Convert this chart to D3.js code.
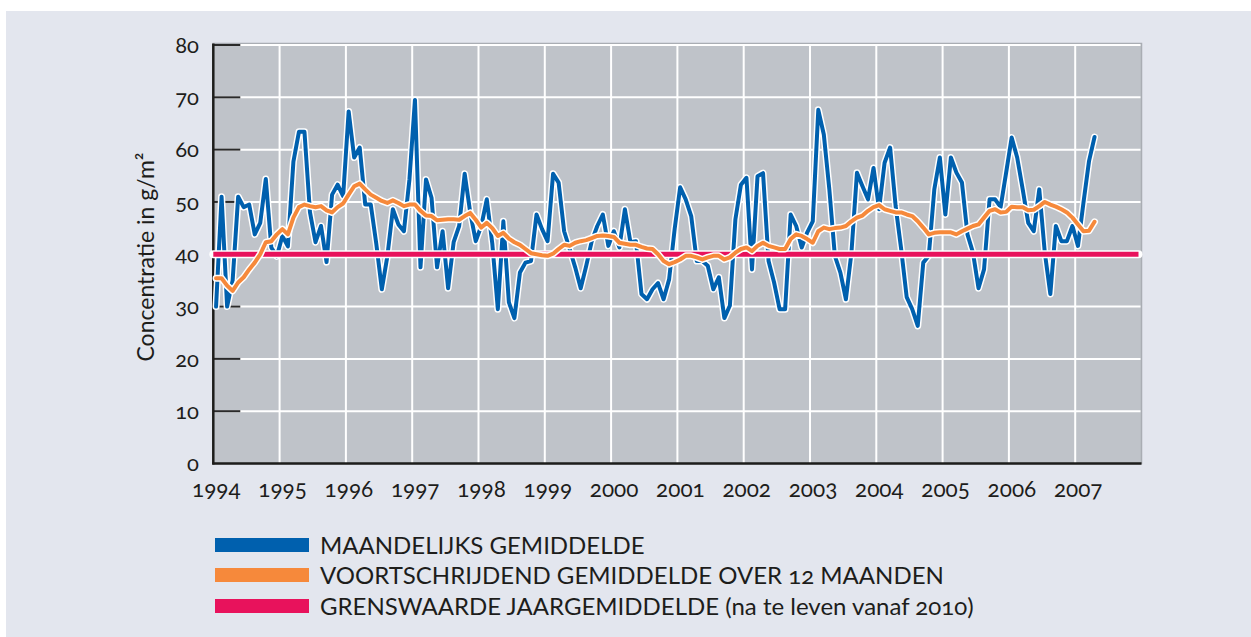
<!DOCTYPE html>
<html><head><meta charset="utf-8">
<script src="https://cdn.jsdelivr.net/npm/d3@7"></script>
<style>
html,body{margin:0;padding:0;background:#fff;}
svg text{font-family:Lato,"Noto Sans",sans-serif;font-variant-numeric:oldstyle-nums;font-feature-settings:"onum" 1;fill:#1d1d1b;}
</style></head><body>
<svg id="c" width="1251" height="637"></svg>
<script>
const years = [1994,1995,1996,1997,1998,1999,2000,2001,2002,2003,2004,2005,2006,2007];
const yTicks = [0,10,20,30,40,50,60,70,80];
const monthly = [30,51,30,35,51,49,49.5,43.8,46,54.4,41.3,39.6,
43.5,41.5,57.7,63.4,63.4,48,42.3,45.4,38.5,51.4,53.3,51.1,
67.3,58.5,60.4,49.5,49.5,42,33.3,39.6,48.6,45.7,44.4,54.3,
69.5,37.5,54.3,50.8,37.5,44.4,33.5,42.3,45.4,55.4,48,42.5,
45.4,50.5,42,29.5,46.3,30.8,27.8,36.5,38.4,38.7,47.6,44.8,
42.5,55.4,53.7,44.4,41,37.5,33.5,37.8,42.5,45.4,47.6,41.6,
44.4,41.3,48.6,42.3,42.5,32.4,31.4,33.3,34.5,31.4,35.2,44.8,
52.8,50.5,47.3,38.7,38.7,37.8,33.3,35.6,27.8,30.2,46.7,53.3,
54.6,37.1,54.9,55.5,38.7,34.6,29.5,29.5,47.6,45.4,41.3,44.2,
46.3,67.6,62.9,52.4,39.7,36.5,31.4,40.3,55.6,53,50.5,56.5,
48.6,57.5,60.4,49.2,41,31.8,29.5,26.3,38.4,39.7,52.4,58.5,
47.6,58.5,55.6,53.7,43.8,40.3,33.5,37.1,50.5,50.5,49,55.6,
62.3,58.5,52.4,46,44.4,52.4,40.3,32.4,45.4,42.5,42.5,45.4,
41.6,49.9,57.8,62.4];
const moving = [35.4,35.4,34,33,34.6,35.6,37.1,38.4,40,42.3,42.5,43.8,
44.8,43.8,47,49,49.5,49.2,49,49.2,48.4,48,49,49.7,
51.4,53,53.5,52.4,51.4,50.8,50.2,49.8,50.3,49.8,49.2,49.5,
49.5,48.3,47.4,47.3,46.5,46.6,46.7,46.7,46.6,47.3,47.9,46.6,
45.1,46,45,43.5,44.1,43,42.3,41.8,41,40.2,40,39.8,
39.7,40.1,41,41.8,41.6,42.2,42.5,42.7,43.1,43.5,43.6,43.5,
43.3,42.2,42,41.8,41.8,41.4,41.1,41,40,38.7,38.1,38.5,
39,39.7,39.7,39.4,39,39.4,39.7,39.7,39,39.4,40.3,41,
41.3,40.6,41.6,42.2,41.6,41.3,41,41,42.9,43.8,43.5,42.9,
42.2,44.4,45.1,44.8,45,45.1,45.4,46.3,47,47.4,48.3,49,
49.4,48.6,48.3,48,48,47.6,47.3,46.3,45.1,43.8,44.1,44.2,
44.2,44.2,43.8,44.4,44.9,45.4,45.7,47,48.3,48.6,48,48.1,
49.1,49,49,48.4,48.5,49.2,50,49.5,49.1,48.6,48,47,
45.7,44.4,44.5,46.2];
const limitValue = 40;
const legendLabels = ["MAANDELIJKS GEMIDDELDE","VOORTSCHRIJDEND GEMIDDELDE OVER 12 MAANDEN","GRENSWAARDE JAARGEMIDDELDE (na te leven vanaf 2010)"];
const colors = ["#0060ae","#f6893b","#e8125c"];

const svg = d3.select("#c");
svg.append("rect").attr("x",6).attr("y",11).attr("width",1245).attr("height",626).attr("fill","#e3e6ee");

const L=213.3, R=1141.5, T=43.5, B=463.5;
const x = d3.scaleLinear().domain([1994,2008]).range([L,R]);
const y = d3.scaleLinear().domain([0,80]).range([B,45]);
const mx = i => x(1994 + (i+0.5)/12);

svg.append("rect").attr("x",L).attr("y",T).attr("width",R-L).attr("height",B-T)
  .attr("fill","#bfc3c9").attr("stroke","#a9adb3").attr("stroke-width",1.5);

// gridlines
const g = svg.append("g");
g.selectAll(".vg").data(years.slice(1)).join("line")
  .attr("x1",d=>x(d)).attr("x2",d=>x(d)).attr("y1",T+1).attr("y2",B)
  .attr("stroke","#fff").attr("stroke-width",2);
g.selectAll(".hg").data(yTicks.slice(1)).join("line")
  .attr("x1",L).attr("x2",R-1).attr("y1",d=>y(d)).attr("y2",d=>y(d))
  .attr("stroke","#fff").attr("stroke-width",2);
g.selectAll(".tk").data(yTicks.slice(1)).join("line")
  .attr("x1",L).attr("x2",L+27).attr("y1",d=>y(d)).attr("y2",d=>y(d))
  .attr("stroke","#2a2a2a").attr("stroke-width",2);

// axes lines
svg.append("line").attr("x1",L).attr("x2",L).attr("y1",T).attr("y2",B+1).attr("stroke","#1d1d1b").attr("stroke-width",2.5);
svg.append("line").attr("x1",L-1).attr("x2",R).attr("y1",B).attr("y2",B).attr("stroke","#1d1d1b").attr("stroke-width",2.5);

// tick labels
svg.selectAll(".yl").data(yTicks).join("text")
  .attr("x",199).attr("y",d=>y(d)).attr("dy","0.35em").attr("text-anchor","end")
  .attr("font-size",22).text(d=>d);
svg.selectAll(".xl").data(years).join("text")
  .attr("x",d=>x(d)+3).attr("y",497).attr("text-anchor","middle")
  .attr("font-size",22.5).text(d=>d);

svg.append("text").attr("transform","translate(154,257) rotate(-90)")
  .attr("text-anchor","middle").attr("font-size",23).text("Concentratie in g/m²");

// lines
const line = d3.line().x((d,i)=>mx(i)).y(d=>y(d)).curve(d3.curveLinear);
function drawSeries(data,color){
  svg.append("path").datum(data).attr("d",line).attr("fill","none")
    .attr("stroke","#fff").attr("stroke-width",7).attr("stroke-linejoin","round").attr("stroke-linecap","round");
  svg.append("path").datum(data).attr("d",line).attr("fill","none")
    .attr("stroke",color).attr("stroke-width",4).attr("stroke-linejoin","round").attr("stroke-linecap","round");
}
drawSeries(monthly,colors[0]);
// limit line
const lim = [limitValue,limitValue];
svg.append("line").attr("x1",L).attr("x2",R-3).attr("y1",y(lim[0])).attr("y2",y(lim[1]))
  .attr("stroke","#fff").attr("stroke-width",8).attr("stroke-linecap","round");
svg.append("line").attr("x1",L).attr("x2",R-3).attr("y1",y(lim[0])).attr("y2",y(lim[1]))
  .attr("stroke",colors[2]).attr("stroke-width",5);
drawSeries(moving,colors[1]);

// legend
const lg = svg.append("g");
const ly = [545,575,606];
legendLabels.forEach((t,i)=>{
  lg.append("rect").attr("x",215).attr("y",ly[i]-7).attr("width",94).attr("height",14).attr("fill",colors[i]);
  lg.append("text").attr("x",320).attr("y",ly[i]).attr("dy","0.36em").attr("font-size",24).text(t);
});
</script>
</body></html>
